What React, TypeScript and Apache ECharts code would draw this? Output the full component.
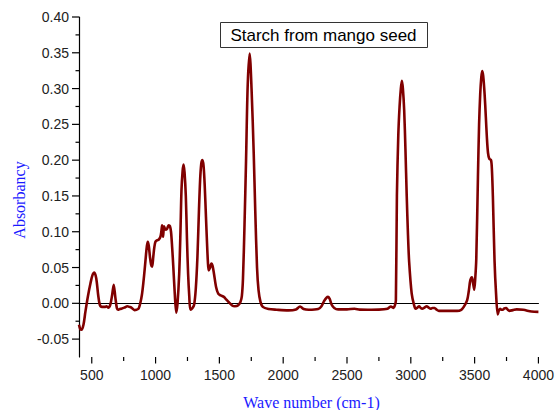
import React, { useEffect, useRef } from "react";
import * as echarts from "echarts";

const waveNumbers = [
  400, 410, 420, 435, 450, 470, 490, 505, 520, 535, 550, 563, 580, 602, 615, 628, 645, 660, 672, 685,
  697, 706, 720, 732, 755, 779, 795, 810, 835, 850, 867, 880, 893, 905, 915, 925, 932, 939, 947, 956,
  965, 973, 982, 990, 999, 1012, 1025, 1038, 1045, 1051, 1055, 1059, 1066, 1074, 1081, 1090, 1102, 1112,
  1121, 1130, 1139, 1150, 1162, 1172, 1185, 1195, 1203, 1212, 1219, 1227, 1237, 1246, 1255, 1264, 1273,
  1288, 1302, 1315, 1328, 1340, 1349, 1358, 1367, 1376, 1385, 1395, 1403, 1410, 1416, 1425, 1437, 1447,
  1458, 1475, 1491, 1510, 1535, 1555, 1574, 1600, 1621, 1645, 1665, 1676, 1685, 1697, 1709, 1722, 1737,
  1752, 1769, 1781, 1795, 1807, 1822, 1840, 1885, 1950, 2041, 2100, 2132, 2160, 2200, 2274, 2300, 2320,
  2340, 2352, 2365, 2380, 2400, 2430, 2500, 2559, 2600, 2663, 2750, 2818, 2844, 2865, 2875, 2883, 2891,
  2902, 2912, 2922, 2930, 2938, 2948, 2958, 2968, 2978, 2987, 3007, 3025, 3038, 3052, 3065, 3078, 3090,
  3107, 3124, 3140, 3155, 3170, 3186, 3203, 3220, 3300, 3363, 3395, 3415, 3441, 3455, 3466, 3479, 3488,
  3497, 3505, 3513, 3526, 3535, 3544, 3552, 3559, 3567, 3578, 3588, 3596, 3605, 3615, 3629, 3636, 3643,
  3656, 3668, 3681, 3690, 3699, 3710, 3720, 3733, 3746, 3760, 3772, 3800, 3829, 3881, 3946, 4000,
];

const absorbance = [
  -0.03, -0.036, -0.037, -0.03, -0.012, 0.01, 0.028, 0.039, 0.043, 0.035, 0.012, -0.002, -0.005, -0.005,
  -0.004, -0.006, -0.002, 0.012, 0.026, 0.008, -0.007, -0.009, -0.008, -0.0075, -0.006, -0.004, -0.005,
  -0.006, -0.0095, -0.009, -0.0075, 0.0, 0.012, 0.03, 0.048, 0.068, 0.08, 0.086, 0.08, 0.065, 0.054,
  0.051, 0.065, 0.078, 0.086, 0.088, 0.089, 0.093, 0.1, 0.109, 0.1, 0.093, 0.1075, 0.104, 0.103, 0.104,
  0.109, 0.108, 0.1, 0.078, 0.051, 0.015, -0.013, 0.0, 0.041, 0.1, 0.158, 0.185, 0.194, 0.183, 0.15,
  0.09, 0.041, 0.01, -0.009, -0.007, -0.002, 0.02, 0.065, 0.13, 0.172, 0.195, 0.2, 0.192, 0.165, 0.12,
  0.085, 0.058, 0.046, 0.049, 0.0555, 0.052, 0.041, 0.022, 0.0135, 0.011, 0.009, 0.005, 0.0015, -0.003,
  -0.004, -0.003, 0.002, 0.01, 0.035, 0.11, 0.2, 0.305, 0.349, 0.3, 0.21, 0.13, 0.05, 0.018, 0.002,
  -0.005, -0.008, -0.009, -0.0098, -0.0085, -0.0045, -0.008, -0.009, -0.008, -0.004, 0.003, 0.008, 0.009,
  0.006, -0.002, -0.0065, -0.0085, -0.0085, -0.0075, -0.0088, -0.009, -0.0088, -0.0075, -0.0045, -0.0065,
  -0.003, 0.004, 0.15, 0.235, 0.275, 0.3, 0.311, 0.3, 0.27, 0.215, 0.15, 0.095, 0.058, 0.0135, -0.002,
  -0.0075, -0.006, -0.004, -0.0065, -0.0075, -0.006, -0.004, -0.006, -0.0075, -0.0065, -0.0066, -0.009,
  -0.0105, -0.0105, -0.0105, -0.009, -0.005, 0.004, 0.018, 0.032, 0.0365, 0.028, 0.019, 0.035, 0.062,
  0.176, 0.25, 0.293, 0.315, 0.3245, 0.318, 0.293, 0.26, 0.232, 0.21, 0.202, 0.2, 0.185, 0.15, 0.06,
  0.0135, -0.0155, -0.01, -0.0075, -0.009, -0.009, -0.0072, -0.0066, -0.009, -0.0105, -0.0095, -0.0084,
  -0.009, -0.0115, -0.012,
];

const xMin = 400;
const xMax = 4000;
const yMin = -0.075;
const yMax = 0.4;
const xTickLabels = [500, 1000, 1500, 2000, 2500, 3000, 3500, 4000];
const xMinorTicks = [750, 1250, 1750, 2250, 2750, 3250, 3750];
const yTickLabels = [-0.05, 0, 0.05, 0.1, 0.15, 0.2, 0.25, 0.3, 0.35, 0.4];
const yMinorTicks = [-0.025, 0.025, 0.075, 0.125, 0.175, 0.225, 0.275, 0.325, 0.375];

const titleText = "Starch from mango seed";
const xName = "Wave number (cm-1)";
const yName = "Absorbancy";

export default function App() {
  const ref = useRef<HTMLDivElement>(null);
  useEffect(() => {
    if (!ref.current) return;
    const chart = echarts.init(ref.current, null, { renderer: "svg" });
    const data = waveNumbers.map((x, i) => [x, absorbance[i]]);
    const axisFont = { fontFamily: "Liberation Sans, Arial, sans-serif", fontSize: 14, color: "#222" };

    // tick data: [x, y, axis(0 = x, 1 = y), length]
    const tickData: number[][] = [
      ...xTickLabels.map((v) => [v, yMin, 0, 6.5]),
      ...xMinorTicks.map((v) => [v, yMin, 0, 4]),
      ...yTickLabels.map((v) => [xMin, v, 1, 7]),
      ...yMinorTicks.map((v) => [xMin, v, 1, 3.5]),
    ];

    chart.setOption({
      animation: false,
      grid: { left: 79, right: 15, top: 17, bottom: 53, containLabel: false },
      xAxis: {
        type: "value",
        min: xMin,
        max: xMax,
        axisLine: { show: true, lineStyle: { color: "#000", width: 1.2 } },
        axisTick: { show: false },
        axisLabel: {
          ...axisFont,
          margin: 11,
          customValues: xTickLabels,
          formatter: (v: number) => String(v),
        },
        splitLine: { show: false },
      },
      yAxis: {
        type: "value",
        min: yMin,
        max: yMax,
        axisLine: { show: true, lineStyle: { color: "#000", width: 1.2 } },
        axisTick: { show: false },
        axisLabel: {
          ...axisFont,
          margin: 10,
          customValues: yTickLabels,
          formatter: (v: number) => v.toFixed(2),
        },
        splitLine: { show: false },
      },
      series: [
        {
          type: "line",
          data,
          showSymbol: false,
          smooth: 0.3,
          lineStyle: { color: "#800000", width: 2.6 },
          z: 3,
        },
        {
          type: "custom",
          data: tickData,
          clip: false,
          silent: true,
          z: 4,
          renderItem: (params: any, api: any) => {
            const p = api.coord([api.value(0), api.value(1)]);
            const isX = api.value(2) === 0;
            const len = api.value(3);
            return {
              type: "line",
              shape: isX
                ? { x1: p[0], y1: p[1], x2: p[0], y2: p[1] + len }
                : { x1: p[0], y1: p[1], x2: p[0] - len, y2: p[1] },
              style: { stroke: "#000", lineWidth: 1.2 },
            };
          },
        },
      ],
      graphic: [
        {
          type: "rect",
          shape: { x: 220.5, y: 22.5, width: 207, height: 25 },
          style: { fill: "#fff", stroke: "#333", lineWidth: 1 },
          z: 10,
        },
        {
          type: "text",
          x: 323.5,
          y: 35.5,
          style: {
            text: titleText,
            fontFamily: "Liberation Sans, Arial, sans-serif",
            fontSize: 17,
            fill: "#000",
            align: "center",
            verticalAlign: "middle",
          },
          z: 11,
        },
        {
          type: "text",
          x: 311.5,
          y: 402.5,
          style: {
            text: xName,
            fontFamily: "Liberation Serif, Times New Roman, serif",
            fontSize: 16,
            fill: "#1a1aff",
            align: "center",
            verticalAlign: "middle",
          },
        },
        {
          type: "text",
          x: 19.5,
          y: 200,
          rotation: Math.PI / 2,
          style: {
            text: yName,
            fontFamily: "Liberation Serif, Times New Roman, serif",
            fontSize: 16,
            fill: "#1a1aff",
            align: "center",
            verticalAlign: "middle",
          },
        },
      ],
    });
    return () => chart.dispose();
  }, []);
  return <div ref={ref} style={{ width: 557, height: 410, position: "absolute", left: 0, top: 0 }} />;
}
